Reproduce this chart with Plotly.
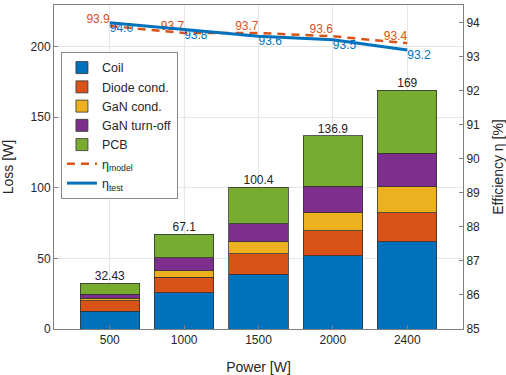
import plotly.graph_objects as go

power = ["500", "1000", "1500", "2000", "2400"]
coil = [12.7, 25.7, 38.7, 51.7, 61.6]
diode = [7.3, 10.9, 14.6, 17.7, 20.7]
gan_cond = [1.9, 4.7, 8.5, 13.2, 18.4]
gan_off = [2.6, 9.2, 12.7, 18.6, 23.6]
totals = [32.43, 67.1, 100.4, 136.9, 169.0]
total_labels = ["32.43", "67.1", "100.4", "136.9", "169"]
pcb = [round(t - a - b - c - d, 2) for t, a, b, c, d in zip(totals, coil, diode, gan_cond, gan_off)]
eta_model = [93.9, 93.7, 93.7, 93.6, 93.4]
eta_test = [94.0, 93.8, 93.6, 93.5, 93.2]

xpos = [1, 2, 3, 4, 5]
font = "Liberation Sans, Arial, sans-serif"
colors = ["#0072BD", "#D95319", "#EDB120", "#7E2F8E", "#77AC30"]
names = ["Coil", "Diode cond.", "GaN cond.", "GaN turn-off", "PCB"]
series = [coil, diode, gan_cond, gan_off, pcb]

fig = go.Figure()
for nm, col, vals in zip(names, colors, series):
    fig.add_trace(go.Bar(x=xpos, y=vals, name=nm, marker=dict(color=col, line=dict(color="#333333", width=0.8)),
                         width=0.8))
fig.add_trace(go.Scatter(x=xpos, y=totals, mode="text", text=total_labels, textposition="top center",
                         textfont=dict(size=12, color="#222", family=font), showlegend=False, hoverinfo="skip"))
fig.add_trace(go.Scatter(x=xpos, y=eta_model, yaxis="y2", mode="lines+text", name="η<sub>model</sub>",
                         line=dict(color="#D95319", width=2.5, dash="8px,6px"),
                         text=[f"{v:.1f}" for v in eta_model], textposition="top left",
                         textfont=dict(size=12, color="#D95319", family=font)))
fig.add_trace(go.Scatter(x=xpos, y=eta_test, yaxis="y2", mode="lines+text", name="η<sub>test</sub>",
                         line=dict(color="#0072BD", width=3),
                         text=[f"{v:.1f}" for v in eta_test], textposition="bottom right",
                         textfont=dict(size=12, color="#0072BD", family=font)))

fig.update_layout(
    width=506, height=375, barmode="stack", bargap=0.2,
    margin=dict(l=54, r=43, t=5, b=46, autoexpand=False),
    plot_bgcolor="white", paper_bgcolor="white",
    font=dict(family=font, size=12, color="#262626"),
    xaxis=dict(tickmode="array", tickvals=xpos, ticktext=power, range=[0.25, 5.75], automargin=False,
               title=dict(text="Power [W]"), showgrid=True, gridcolor="#e6e6e6",
               showline=True, linecolor="#808080", mirror=True, ticks="inside", ticklen=4, tickcolor="#808080"),
    yaxis=dict(range=[0, 229.3], tickvals=[0, 50, 100, 150, 200], title=dict(text="Loss [W]"), automargin=False,
               showgrid=True, gridcolor="#e6e6e6", showline=True, linecolor="#808080", mirror=True,
               ticks="inside", ticklen=4, tickcolor="#808080", zeroline=False),
    yaxis2=dict(range=[85, 94.52], overlaying="y", side="right", tickvals=list(range(85, 95)), automargin=False,
                title=dict(text="Efficiency η [%]"), showgrid=False,
                ticks="inside", ticklen=4, tickcolor="#808080", showline=True, linecolor="#808080"),
    legend=dict(x=0.017, y=0.855, xanchor="left", yanchor="top", bgcolor="white", bordercolor="#888",
                borderwidth=1, font=dict(size=12.5), tracegroupgap=0, itemwidth=30, traceorder="normal"),
    showlegend=True,
)
fig.write_html("out.html", config={"displayModeBar": False},
               post_script="document.body.style.margin='0';document.body.style.overflow='hidden';")
